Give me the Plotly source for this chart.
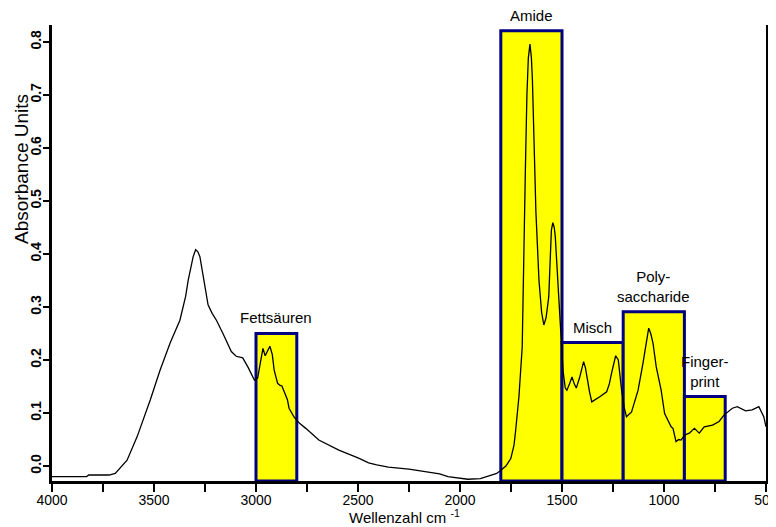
import plotly.graph_objects as go

# Spectrum (wavenumber cm^-1, absorbance)
wavenumber = [4000, 3900, 3830, 3820, 3720, 3690, 3660, 3632, 3583, 3518, 3470, 3421, 3373, 3345,
              3332, 3308, 3296, 3285, 3275, 3251, 3235, 3215, 3194, 3162, 3121, 3097, 3065, 3040,
              3008, 2992, 2975, 2966, 2955, 2945, 2932, 2920, 2911, 2894, 2882, 2873, 2862, 2846,
              2838, 2813, 2785, 2756, 2692, 2594, 2497, 2448, 2408, 2351, 2250, 2157, 2100, 2059,
              1962, 1900, 1865, 1820, 1800, 1775, 1751, 1735, 1727, 1711, 1695, 1690, 1685, 1680,
              1672, 1665, 1657, 1650, 1645, 1640, 1635, 1628, 1621, 1613, 1600, 1589, 1578, 1565,
              1552, 1545, 1538, 1533, 1516, 1505, 1495, 1484, 1476, 1463, 1451, 1440, 1430, 1415,
              1394, 1385, 1378, 1365, 1354, 1335, 1313, 1281, 1268, 1257, 1237, 1224, 1208, 1195,
              1184, 1159, 1127, 1103, 1085, 1075, 1065, 1054, 1038, 1014, 997, 980, 965, 956,
              941, 928, 916, 900, 876, 851, 827, 803, 762, 730, 706, 665, 641, 600, 568, 535, 511, 500]
absorbance = [-0.020, -0.020, -0.020, -0.017, -0.017, -0.014, -0.002, 0.011, 0.055, 0.125, 0.181, 0.232, 0.275, 0.320,
              0.351, 0.395, 0.408, 0.404, 0.395, 0.345, 0.304, 0.288, 0.275, 0.250, 0.216, 0.207, 0.204, 0.187,
              0.162, 0.166, 0.200, 0.222, 0.208, 0.215, 0.226, 0.210, 0.181, 0.156, 0.152, 0.151, 0.140, 0.125,
              0.109, 0.092, 0.080, 0.071, 0.049, 0.030, 0.015, 0.006, 0.002, -0.002, -0.006, -0.011, -0.015, -0.020,
              -0.025, -0.024, -0.020, -0.014, -0.008, 0.000, 0.014, 0.040, 0.068, 0.131, 0.225, 0.350, 0.445, 0.550,
              0.700, 0.770, 0.796, 0.770, 0.728, 0.640, 0.550, 0.480, 0.420, 0.351, 0.290, 0.266, 0.280, 0.319,
              0.445, 0.459, 0.450, 0.433, 0.319, 0.244, 0.180, 0.147, 0.143, 0.155, 0.168, 0.155, 0.147, 0.165,
              0.197, 0.185, 0.168, 0.140, 0.121, 0.125, 0.131, 0.140, 0.155, 0.175, 0.208, 0.200, 0.143, 0.110,
              0.093, 0.102, 0.143, 0.194, 0.240, 0.260, 0.250, 0.232, 0.187, 0.143, 0.099, 0.085, 0.074, 0.071,
              0.046, 0.050, 0.049, 0.058, 0.062, 0.071, 0.062, 0.074, 0.077, 0.084, 0.096, 0.109, 0.112, 0.104,
              0.106, 0.112, 0.093, 0.074]

# Highlighted regions
region_names = ["Fettsäuren", "Amide", "Misch", "Poly-<br>saccharide", "Finger-<br>print"]
region_start = [3000, 1800, 1500, 1200, 900]
region_end = [2800, 1500, 1200, 900, 700]
region_top = [0.250, 0.821, 0.233, 0.291, 0.131]

# Axis ticks
x_tickvals = [4000, 3750, 3500, 3250, 3000, 2750, 2500, 2250, 2000, 1750, 1500, 1250, 1000, 750, 500]
x_ticktext = ["4000", "", "3500", "", "3000", "", "2500", "", "2000", "", "1500", "", "1000", "", "500"]
y_tickvals = [0.0, 0.1, 0.2, 0.3, 0.4, 0.5, 0.6, 0.7, 0.8]
y_ticktext = ["<b>0.0</b>", "<b>0.1</b>", "<b>0.2</b>", "<b>0.3</b>", "<b>0.4</b>",
              "<b>0.5</b>", "<b>0.6</b>", "<b>0.7</b>", "<b>0.8</b>"]
x_title = "Wellenzahl cm <sup>-1</sup>"
y_title = "Absorbance Units"

Y_MIN, Y_MAX = -0.0283, 0.832
FONT = "Liberation Sans, Arial, sans-serif"

fig = go.Figure()
fig.add_trace(go.Scatter(x=wavenumber, y=absorbance, mode="lines",
                         line=dict(color="black", width=1.3), showlegend=False,
                         hoverinfo="skip", cliponaxis=False))

for name, x0, x1, top in zip(region_names, region_start, region_end, region_top):
    fig.add_shape(type="rect", xref="x", yref="y", x0=x0, x1=x1, y0=Y_MIN, y1=top,
                  fillcolor="#FFFF00", line=dict(color="#000080", width=3), layer="below")
    fig.add_annotation(x=(x0 + x1) / 2, y=top, xref="x", yref="y", text=name,
                       showarrow=False, yanchor="bottom", yshift=5,
                       font=dict(family=FONT, size=15, color="black"))

fig.add_annotation(x=0.493, y=-0.078, xref="paper", yref="paper", text=x_title,
                   showarrow=False, xanchor="center", yanchor="middle",
                   font=dict(family=FONT, size=15, color="black"))
fig.add_annotation(x=-0.043, y=0.685, xref="paper", yref="paper", text=y_title,
                   showarrow=False, textangle=-90, xanchor="center", yanchor="middle",
                   font=dict(family=FONT, size=19, color="black"))

fig.update_layout(
    width=768, height=519,
    margin=dict(l=44, r=10, t=17, b=46, autoexpand=False),
    paper_bgcolor="white", plot_bgcolor="white",
    font=dict(family=FONT, size=14, color="black"),
    showlegend=False,
)
fig.update_xaxes(range=[4000, 500], tickvals=x_tickvals, ticktext=x_ticktext,
                 ticks="outside", ticklen=8, tickwidth=2, tickcolor="black",
                 ticklabelstandoff=-4, ticklabeloverflow="allow",
                 showline=True, linewidth=3, linecolor="black",
                 showgrid=False, zeroline=False)
fig.update_yaxes(range=[Y_MIN, Y_MAX], tickvals=y_tickvals, ticktext=y_ticktext,
                 tickangle=-90, ticks="outside", ticklen=6, tickwidth=2, tickcolor="black",
                 ticklabelstandoff=-3,
                 showline=True, linewidth=2.5, linecolor="black", mirror="ticks",
                 showgrid=False, zeroline=False)

fig.write_html("out.html")
